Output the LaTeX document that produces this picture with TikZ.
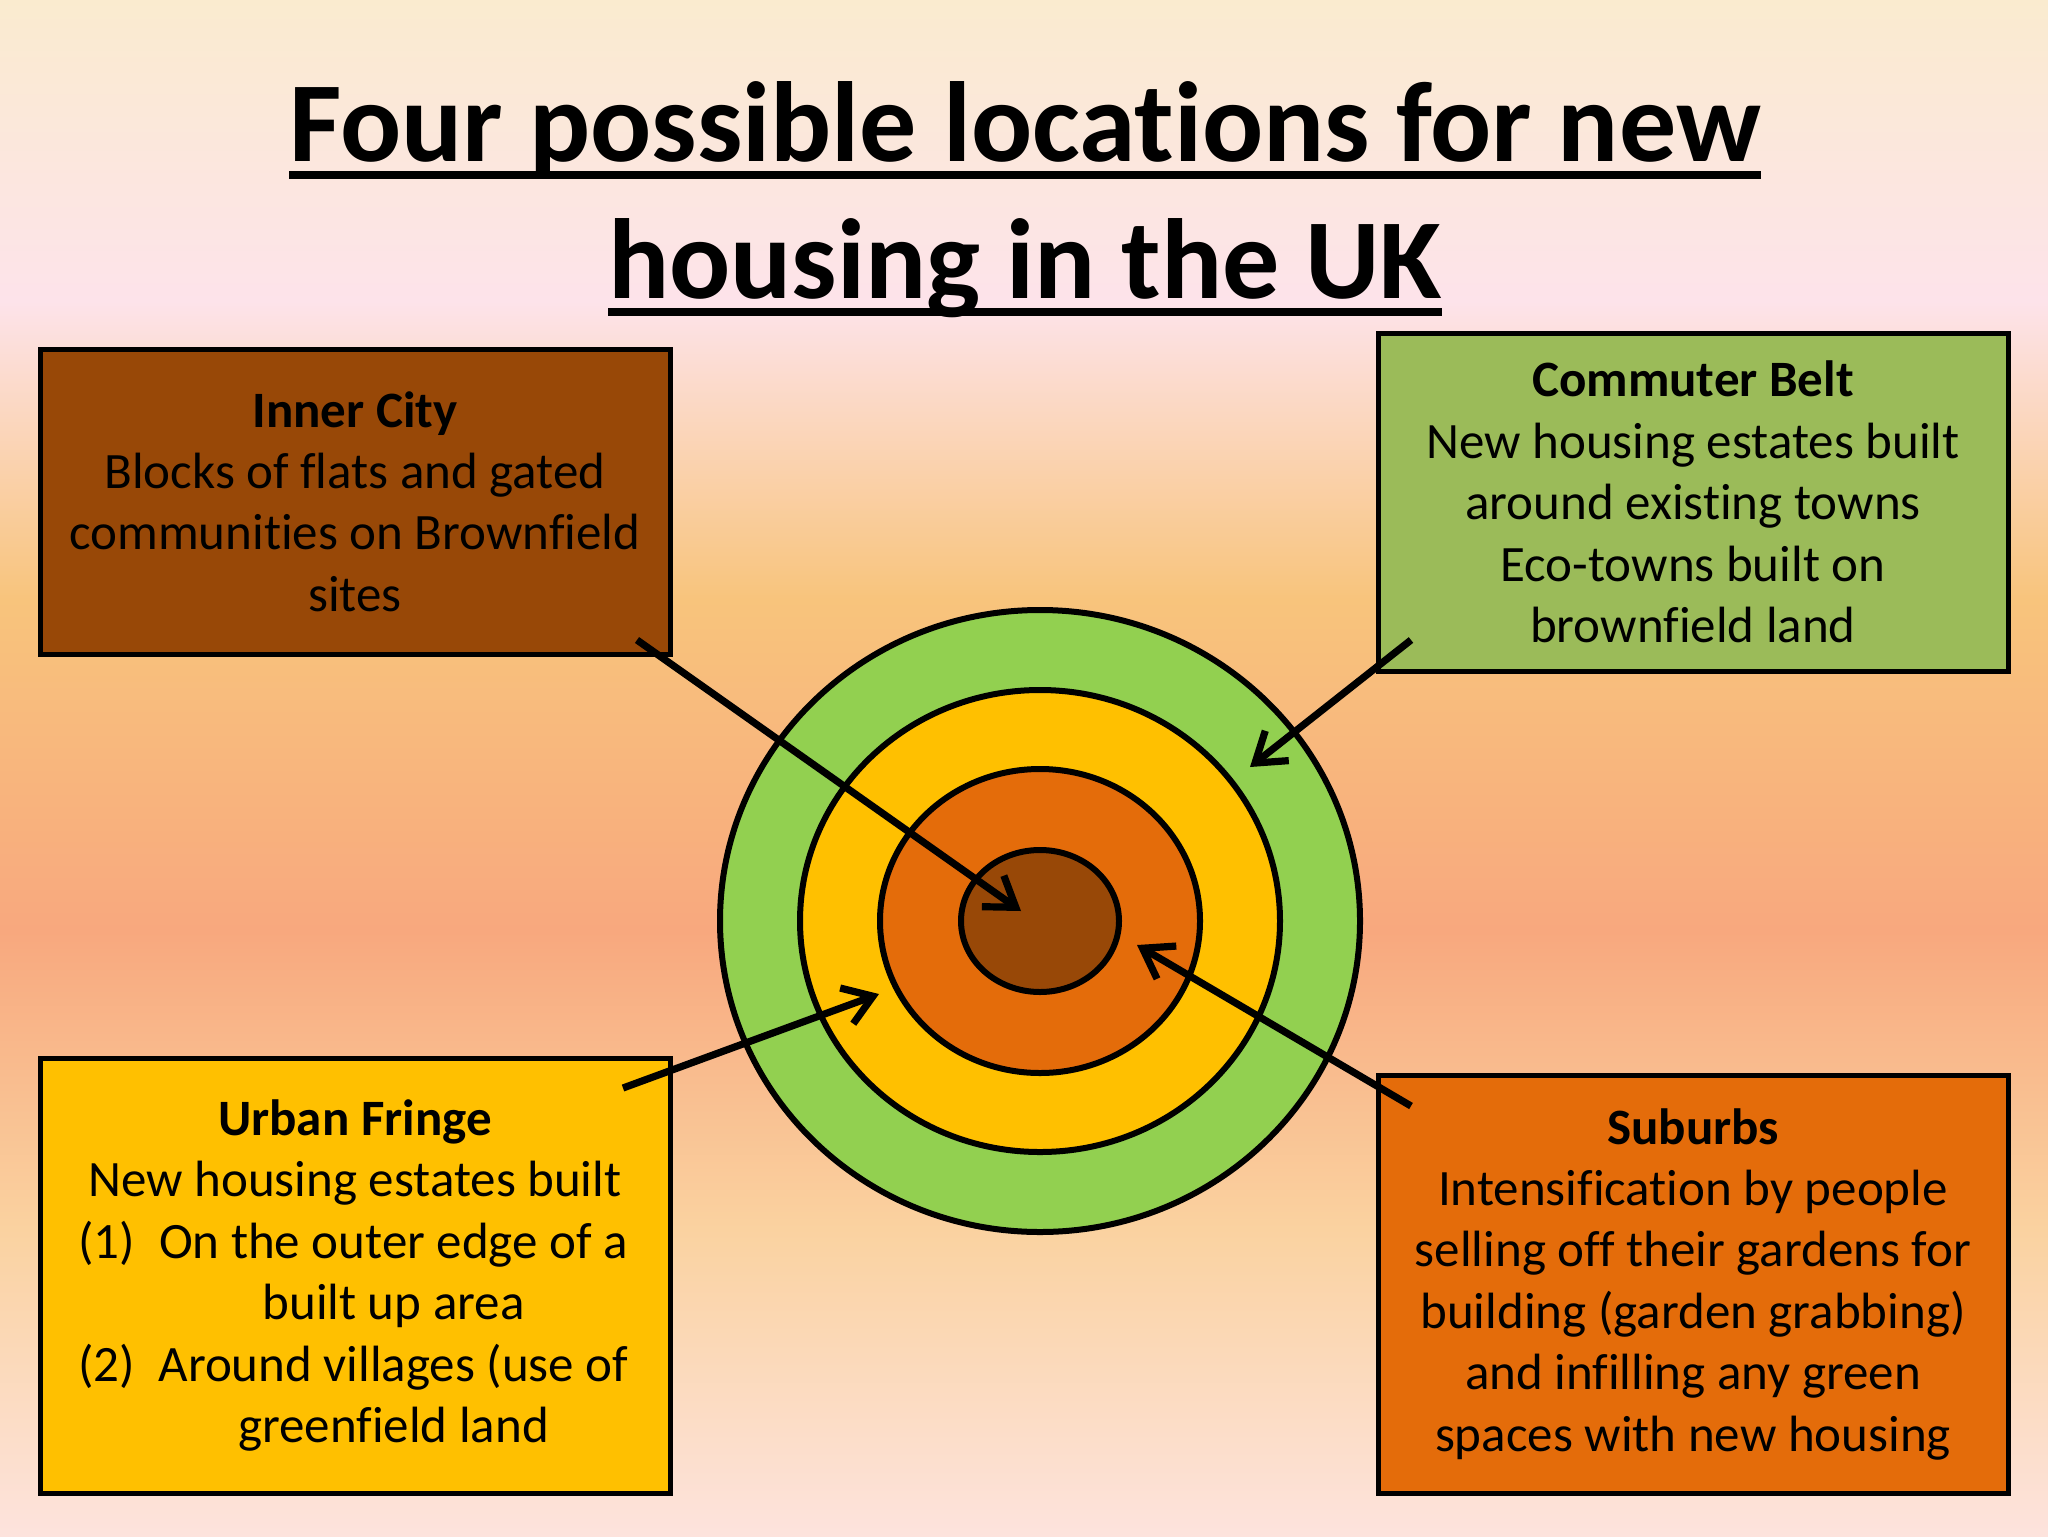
\documentclass[tikz,border=0pt]{standalone}
\usepackage{fontspec}
\setmainfont{Carlito}[Ligatures=NoCommon]
\usepackage{tikz}
\usetikzlibrary{arrows.meta,shapes.geometric,positioning}

\definecolor{bgcream}{HTML}{FAEBCF}
\definecolor{bgpink}{HTML}{FDE3EA}
\definecolor{bgorange}{HTML}{F8C47C}
\definecolor{bgsalmon}{HTML}{F8A87E}
\definecolor{bgpeach}{HTML}{FAD2A0}
\definecolor{bgrose}{HTML}{FDE3DD}
\definecolor{citybrown}{HTML}{984807}
\definecolor{beltgreen}{HTML}{9BBB59}
\definecolor{limegreen}{HTML}{92D050}
\definecolor{amber}{HTML}{FFC000}
\definecolor{rust}{HTML}{E46C0A}

\pgfdeclareverticalshading{sky}{100bp}{color(0bp)=(bgrose); color(25bp)=(bgrose);
  color(35bp)=(bgpeach); color(44.7bp)=(bgsalmon); color(55.5bp)=(bgorange);
  color(65.2bp)=(bgpink); color(75bp)=(bgcream); color(100bp)=(bgcream)}

% underlined title line
\newsavebox{\headbox}
\newcommand{\headrule}[1]{\sbox{\headbox}{#1}\rlap{\usebox{\headbox}}\rule[-9pt]{\wd\headbox}{4pt}}

\newcommand{\listline}[2]{\makebox[38.5pt][l]{#1}\makebox[238pt]{#2}}

\tikzset{
    zone/.style={
      rectangle,
           draw=black, line width=2.5pt,
           inner sep=4pt,
           text centered, align=center,
           minimum width=315pt,
           font=\fontsize{25.5}{30.7}\selectfont,
           },
}
\tikzset{
    ring/.style={
      ellipse,
           draw=black, line width=3pt,
           inner sep=0pt,
           },
}
\tikzset{
    pointer/.style={-{Straight Barb[length=14pt,width=19pt]}, line width=3.6pt},
    headline/.style={anchor=base, inner sep=0pt, font=\fontsize{57}{68}\selectfont\bfseries},
}

\begin{document}
\begin{tikzpicture}[x=0.5pt,y=-0.5pt]

\useasboundingbox (0,0) rectangle (2048,1536);
\fill[shading=sky] (0,0) rectangle (2048,1536);

% title
\node[headline](title1) at (1025,161){\headrule{Four possible locations for new}};
\node[headline](title2) at ([yshift=-68.5pt]title1.base){\headrule{housing in the UK}};

% target rings
\node[ring,fill=limegreen,minimum width=320pt,minimum height=311pt](belt) at (1040,921){};
\node[ring,fill=amber,minimum width=240pt,minimum height=231pt](fringe) at (belt){};
\node[ring,fill=rust,minimum width=160pt,minimum height=152pt](suburb) at (belt){};
\node[ring,fill=citybrown,minimum width=79pt,minimum height=71pt](core) at (belt){};

% the four boxes
\node[zone,fill=citybrown,minimum height=152.5pt](ic) at (355,501.5){\textbf{Inner City}\\Blocks of flats and gated\\communities on Brownfield\\sites};
\node[zone,fill=beltgreen,minimum height=169pt](cb) at (1693,502){\textbf{Commuter Belt}\\New housing estates built\\around existing towns\\Eco-towns built on\\brownfield land};
\node[zone,fill=amber,minimum height=217.5pt](uf) at (355,1275.5){\textbf{Urban Fringe}\\New housing estates built\\\listline{(1)}{On the outer edge of a}\\\listline{}{built up area}\\\listline{(2)}{Around villages (use of}\\\listline{}{greenfield land}};
\node[zone,fill=rust,minimum height=209pt](sb) at (1693,1284){\textbf{Suburbs}\\Intensification by people\\selling off their gardens for\\building (garden grabbing)\\and infilling any green\\spaces with new housing};

% arrow ends
\coordinate (icfrom) at (637,640);
\coordinate (icto) at (1021,911);
\coordinate (cbfrom) at (1411,640);
\coordinate (cbto) at (1250,767);
\coordinate (uffrom) at (623,1088);
\coordinate (ufto) at (879,994);
\coordinate (sbfrom) at (1411,1106);
\coordinate (sbto) at (1137,945);

\path (icfrom) edge[pointer](icto);
\path (cbfrom) edge[pointer](cbto);
\path (uffrom) edge[pointer](ufto);
\path (sbfrom) edge[pointer](sbto);

\end{tikzpicture}
\end{document}
